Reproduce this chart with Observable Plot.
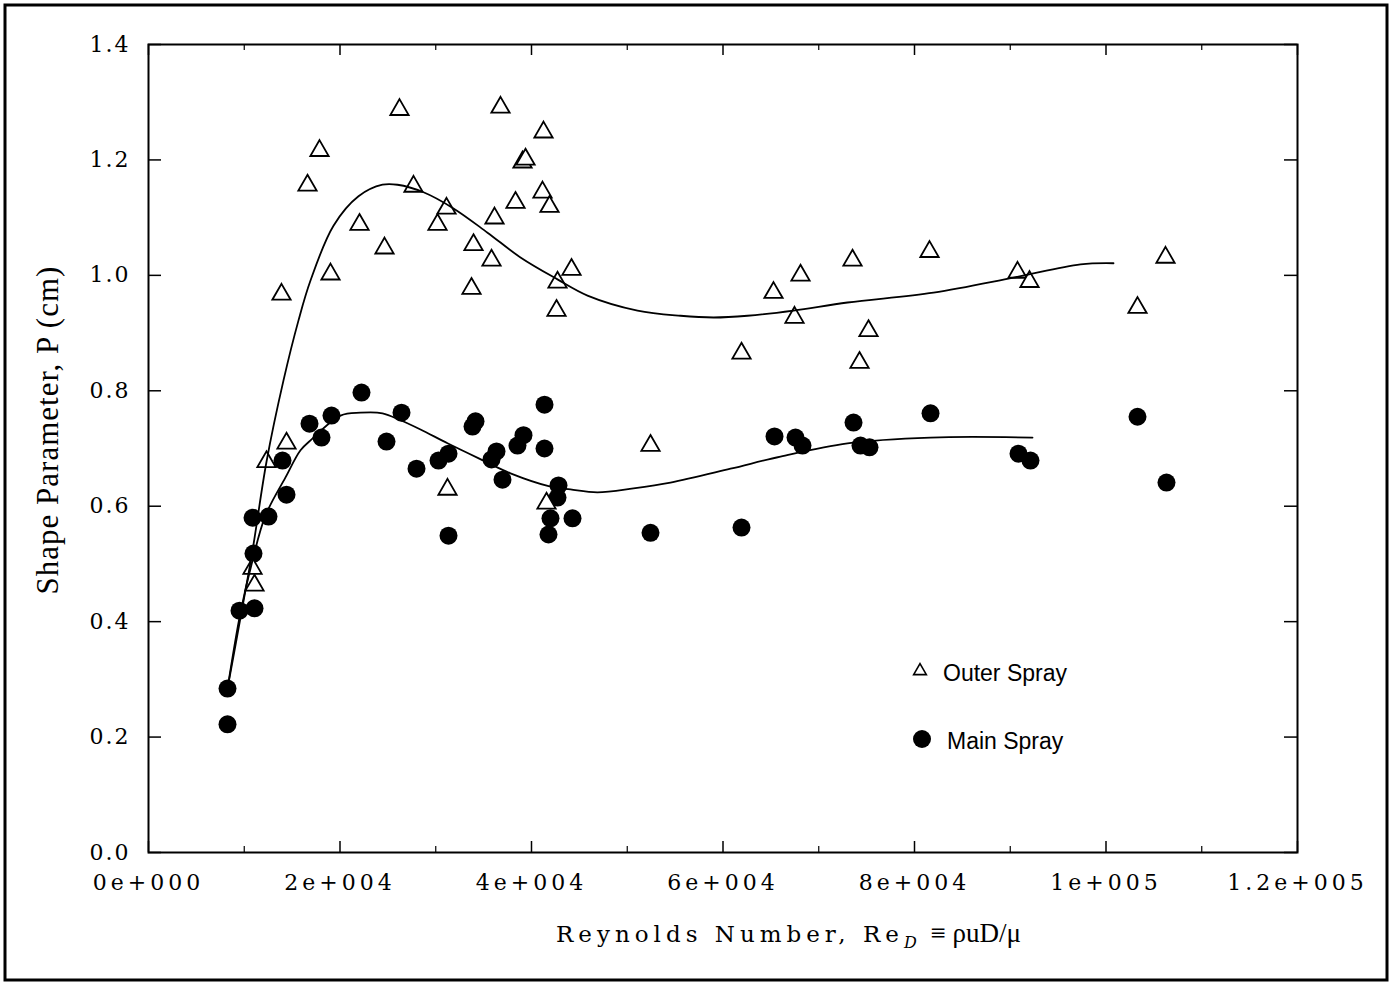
<!DOCTYPE html>
<html>
<head>
<meta charset="utf-8">
<script src="https://cdn.jsdelivr.net/npm/d3@7"></script>
<script src="https://cdn.jsdelivr.net/npm/@observablehq/plot@0.6"></script>
<style>
  html, body { margin: 0; padding: 0; background: #fff; }
  #chart { position: relative; width: 1392px; height: 983px; }
</style>
</head>
<body>
<div id="chart"></div>
<script>
// ---- Data ----
const outerRe = [13890, 14413, 12324, 10862, 11071, 16606, 17859, 19008, 22037, 24648,
  26214, 27677, 30183, 31123, 31228, 33734, 33943, 35823, 36136, 36763,
  38329, 39061, 39374, 41254, 41149, 41880, 42716, 42612, 44178, 41567,
  52429, 61933, 65275, 67468, 68095, 73526, 74257, 75197, 81568, 90759,
  92012, 103291, 106215];
const outerP = [0.967, 0.709, 0.677, 0.492, 0.463, 1.156, 1.216, 1.002, 1.088, 1.047,
  1.287, 1.154, 1.088, 1.116, 0.629, 0.977, 1.053, 1.026, 1.099, 1.291,
  1.126, 1.196, 1.201, 1.248, 1.144, 1.119, 0.988, 0.939, 1.010, 0.605,
  0.705, 0.865, 0.970, 0.927, 1.000, 1.026, 0.849, 0.904, 1.041, 1.005,
  0.989, 0.944, 1.031];

const mainRe = [8251, 8251, 9504, 11071, 10966, 10862, 12533, 13995, 14413, 16815,
  18068, 19112, 22245, 24857, 26423, 27990, 30288, 31332, 31332, 33839,
  34152, 35823, 36345, 36971, 38538, 39164, 41358, 41358, 41775, 41984,
  42820, 42716, 44282, 52429, 61933, 65379, 67572, 68304, 73631, 74360,
  75300, 81673, 90863, 92114, 103291, 106318];
const mainP = [0.284, 0.222, 0.419, 0.423, 0.518, 0.580, 0.582, 0.679, 0.620, 0.743,
  0.719, 0.757, 0.797, 0.712, 0.762, 0.665, 0.679, 0.691, 0.549, 0.738,
  0.747, 0.681, 0.695, 0.646, 0.705, 0.723, 0.776, 0.700, 0.551, 0.579,
  0.636, 0.615, 0.579, 0.554, 0.563, 0.721, 0.719, 0.705, 0.745, 0.705,
  0.702, 0.761, 0.691, 0.679, 0.755, 0.641];

const outerFitRe = [8251, 9400, 10862, 12324, 14099, 15666, 16919, 19321, 21932, 24439,
  26006, 28721, 31854, 35405, 38852, 42716, 45849, 51071, 55562, 59009,
  62560, 67364, 73004, 81985, 90341, 97339, 100783];
const outerFitP = [0.284, 0.388, 0.523, 0.677, 0.818, 0.922, 0.991, 1.086, 1.137, 1.157,
  1.157, 1.144, 1.116, 1.074, 1.031, 0.993, 0.965, 0.939, 0.930, 0.927,
  0.930, 0.939, 0.953, 0.970, 0.996, 1.019, 1.021];

const mainFitRe = [8251, 9609, 10862, 12219, 14308, 15875, 16919, 20052, 22141, 24439,
  26319, 28407, 31228, 34987, 37807, 41984, 44073, 46893, 50653, 54517,
  60784, 66006, 73004, 81673, 92325];
const mainFitP = [0.284, 0.416, 0.506, 0.584, 0.650, 0.697, 0.714, 0.757, 0.762, 0.761,
  0.749, 0.733, 0.709, 0.679, 0.657, 0.634, 0.629, 0.624, 0.631, 0.641,
  0.665, 0.686, 0.709, 0.719, 0.719];

const xTicks = [0, 20000, 40000, 60000, 80000, 100000, 120000];
const xTickLabels = ["0e+000", "2e+004", "4e+004", "6e+004", "8e+004", "1e+005", "1.2e+005"];
const xMinorTicks = [10000, 30000, 50000, 70000, 90000, 110000];
const yTicks = [0, 0.2, 0.4, 0.6, 0.8, 1.0, 1.2, 1.4];
const yTickLabels = ["0.0", "0.2", "0.4", "0.6", "0.8", "1.0", "1.2", "1.4"];
const seriesNames = ["Outer Spray", "Main Spray"];

// ---- Build tables ----
const outer = outerRe.map((x, i) => ({x, y: outerP[i]}));
const main = mainRe.map((x, i) => ({x, y: mainP[i]}));
const outerFit = outerFitRe.map((x, i) => ({x, y: outerFitP[i]}));
const mainFit = mainFitRe.map((x, i) => ({x, y: mainFitP[i]}));

const W = 1392, H = 983;
const M = {top: 44, right: 95, bottom: 131, left: 148};
const plotH = H - M.top - M.bottom;
const plotW = W - M.left - M.right;
const serif = "'DejaVu Serif', serif";

const chart = Plot.plot({
  width: W,
  height: H,
  marginTop: M.top, marginRight: M.right, marginBottom: M.bottom, marginLeft: M.left,
  style: {background: "#fff", color: "#000"},
  x: {domain: [0, 120000]},
  y: {domain: [0, 1.4]},
  marks: [
    // ticks (inward)
    Plot.tickX(xTicks, {x: d => d, insetTop: plotH - 11, stroke: "#000", strokeWidth: 1.5}),
    Plot.tickX(xTicks, {x: d => d, insetBottom: plotH - 11, stroke: "#000", strokeWidth: 1.5}),
    Plot.tickX(xMinorTicks, {x: d => d, insetTop: plotH - 6, stroke: "#000", strokeWidth: 1.2}),
    Plot.tickX(xMinorTicks, {x: d => d, insetBottom: plotH - 6, stroke: "#000", strokeWidth: 1.2}),
    Plot.tickY(yTicks, {y: d => d, insetRight: plotW - 13, stroke: "#000", strokeWidth: 1.5}),
    Plot.tickY(yTicks, {y: d => d, insetLeft: plotW - 13, stroke: "#000", strokeWidth: 1.5}),
    Plot.frame({stroke: "#000", strokeWidth: 2}),
    Plot.axisX(xTicks, {
      anchor: "bottom", tickSize: 0, tickPadding: 22, label: null,
      tickFormat: (d, i) => xTickLabels[i],
      fontSize: 22, fontFamily: serif
    }),
    Plot.axisY(yTicks, {
      anchor: "left", tickSize: 0, tickPadding: 18, label: null,
      tickFormat: (d, i) => yTickLabels[i],
      fontSize: 22, fontFamily: serif
    }),
    // data
    Plot.dot(main, {x: "x", y: "y", r: 9, fill: "#000", stroke: "none"}),
    Plot.dot(outer, {x: "x", y: "y", symbol: "triangle", r: 6.8, fill: "#fff", stroke: "#000", strokeWidth: 1.8}),
    Plot.line(outerFit, {x: "x", y: "y", curve: "catmull-rom", stroke: "#000", strokeWidth: 1.8}),
    Plot.line(mainFit, {x: "x", y: "y", curve: "catmull-rom", stroke: "#000", strokeWidth: 1.8})
  ]
});

const svg = d3.select(chart);
svg.selectAll("g[aria-label='y-axis tick label'] text").style("letter-spacing", "2px");
svg.selectAll("g[aria-label='x-axis tick label'] text").style("letter-spacing", "4px");

// outer border
svg.append("rect")
  .attr("x", 5).attr("y", 5).attr("width", W - 10).attr("height", H - 8)
  .attr("fill", "none").attr("stroke", "#000").attr("stroke-width", 3);

// x axis label
const xl = svg.append("text")
  .attr("x", 556).attr("y", 942)
  .attr("text-anchor", "start")
  .attr("font-family", serif).attr("font-size", 23)
  .style("letter-spacing", "5px");
xl.append("tspan").text("Reynolds Number, Re");
xl.append("tspan").attr("dy", 6).attr("font-size", 16).attr("font-style", "italic").text("D");
xl.append("tspan").attr("dy", -6).attr("dx", 2).style("letter-spacing", "0px")
  .attr("font-family", "'Liberation Serif', serif").attr("font-size", 27).text(" ≡ ρuD/μ");

// y axis label
svg.append("text")
  .attr("transform", "translate(58,430) rotate(-90)")
  .attr("text-anchor", "middle")
  .attr("font-family", "'Liberation Serif', serif").attr("font-size", 31)
  .style("letter-spacing", "1px")
  .text("Shape Parameter, P (cm)");

// legend
const sans = "'Liberation Sans', Arial, sans-serif";
const lg = svg.append("g").attr("text-anchor", "start");
lg.append("path").attr("d", d3.symbol(d3.symbolTriangle, 70)())
  .attr("transform", "translate(920,671)").attr("fill", "#fff").attr("stroke", "#000").attr("stroke-width", 1.6);
lg.append("text").attr("x", 943).attr("y", 681).attr("font-family", sans).attr("font-size", 23).text(seriesNames[0]);
lg.append("circle").attr("cx", 922).attr("cy", 739).attr("r", 9).attr("fill", "#000");
lg.append("text").attr("x", 947).attr("y", 749).attr("font-family", sans).attr("font-size", 23).text(seriesNames[1]);

document.getElementById("chart").appendChild(chart);
</script>
</body>
</html>
